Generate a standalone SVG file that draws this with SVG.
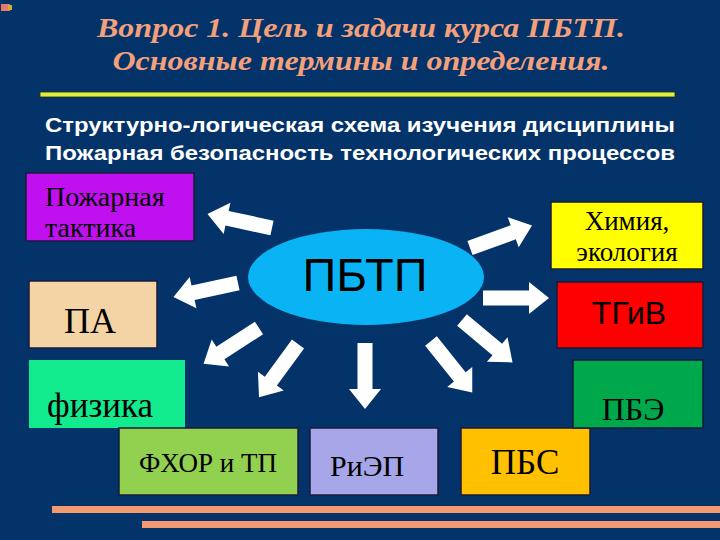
<svg xmlns="http://www.w3.org/2000/svg" width="720" height="540" viewBox="0 0 720 540">
<style>
.title{font-family:"Liberation Serif","DejaVu Serif",serif;font-style:italic;font-weight:bold;font-size:28px;fill:#F4A07A}
.sub{font-family:"Liberation Sans","DejaVu Sans",sans-serif;font-weight:bold;font-size:20px;fill:#FFFFFF}
.box{stroke:#1a1a3a;stroke-width:1.5}
.ser{font-family:"Liberation Serif","DejaVu Serif",serif;fill:#000000}
.san{font-family:"Liberation Sans","DejaVu Sans",sans-serif;fill:#000000}
.arr{fill:#FFFFFF}
</style>
<defs>
<path id="arrow" d="M0,-7.5 H46 V-16 L66,0 L46,16 V7.5 H0 Z"/>
</defs>
<rect x="0" y="0" width="720" height="540" fill="#04336A"/>
<g id="icon"><rect x="1" y="4" width="9" height="7" fill="#E87A6A"/><rect x="8" y="5" width="4" height="5" fill="#C8B040"/></g>
<g id="title">
<text class="title" x="361" y="37" text-anchor="middle" textLength="528" lengthAdjust="spacingAndGlyphs">Вопрос 1. Цель и задачи курса ПБТП.</text>
<text class="title" x="361" y="70" text-anchor="middle" textLength="497" lengthAdjust="spacingAndGlyphs">Основные термины и определения.</text>
<rect x="40" y="92" width="635" height="5" fill="#E0EE3A" stroke="#1a2a20" stroke-width="0.8"/>
</g>
<g id="subtitle">
<text class="sub" x="45" y="132" textLength="630" lengthAdjust="spacingAndGlyphs">Структурно-логическая схема изучения дисциплины</text>
<text class="sub" x="45" y="160" textLength="630" lengthAdjust="spacingAndGlyphs">Пожарная безопасность технологических процессов</text>
</g>
<g id="connectors">
<use href="#arrow" class="arr" transform="translate(272,228) rotate(192.2)"/>
<use href="#arrow" class="arr" transform="translate(238,283) rotate(167.8)"/>
<use href="#arrow" class="arr" transform="translate(259,328) rotate(147.1)"/>
<use href="#arrow" class="arr" transform="translate(298,344) rotate(126.2)"/>
<use href="#arrow" class="arr" transform="translate(365,343) rotate(90)"/>
<use href="#arrow" class="arr" transform="translate(431,341) rotate(51.3)"/>
<use href="#arrow" class="arr" transform="translate(462,320) rotate(40)"/>
<use href="#arrow" class="arr" transform="translate(483,298) rotate(0)"/>
<use href="#arrow" class="arr" transform="translate(470,248) rotate(-20)"/>
</g>
<g id="n-tactics">
<rect class="box" x="26" y="173" width="168" height="68" fill="#C010F0"/>
<text class="ser" x="45" y="206" font-size="28" fill="#2a0a2a">Пожарная</text>
<text class="ser" x="45" y="237" font-size="28" fill="#2a0a2a">тактика</text>
</g>
<g id="n-pa">
<rect class="box" x="29" y="281" width="128" height="67" fill="#F4D4A4"/>
<text class="ser" x="90" y="333" font-size="36" text-anchor="middle">ПА</text>
</g>
<g id="n-phys">
<rect x="29" y="360" width="156" height="68" fill="#12EA8E"/>
<text class="ser" x="47" y="417" font-size="35">физика</text>
</g>
<g id="n-fhor">
<rect class="box" x="119" y="428" width="179" height="67" fill="#92D050"/>
<text class="ser" x="208" y="472" font-size="27" text-anchor="middle">ФХОР и ТП</text>
</g>
<g id="n-riep">
<rect class="box" x="310" y="428" width="128" height="67" fill="#A6A6E8"/>
<text class="ser" x="330" y="476" font-size="30">РиЭП</text>
</g>
<g id="n-pbs">
<rect class="box" x="461" y="428" width="129" height="67" fill="#FFC000"/>
<text class="ser" x="525" y="474" font-size="35" text-anchor="middle">ПБС</text>
</g>
<g id="n-pbe">
<rect class="box" x="573" y="360" width="130" height="68" fill="#00A84C"/>
<text class="ser" x="633" y="420" font-size="32" text-anchor="middle">ПБЭ</text>
</g>
<g id="n-tgiv">
<rect class="box" x="557" y="282" width="146" height="66" fill="#FF0000"/>
<text class="san" x="629" y="324" font-size="32" text-anchor="middle">ТГиВ</text>
</g>
<g id="n-chem">
<rect class="box" x="551" y="202" width="152" height="67" fill="#FFFF00"/>
<text class="ser" x="627" y="230" font-size="27" text-anchor="middle">Химия,</text>
<text class="ser" x="627" y="261" font-size="27" text-anchor="middle">экология</text>
</g>
<g id="n-center">
<ellipse cx="366" cy="277" rx="118" ry="48" fill="#0AB4F4"/>
<text class="san" x="365" y="291" font-size="47" text-anchor="middle">ПБТП</text>
</g>
<g id="bottom-lines">
<rect x="52" y="506" width="668" height="7" fill="#F49A70"/>
<rect x="142" y="521" width="578" height="7" fill="#F49A70"/>
</g>
</svg>
